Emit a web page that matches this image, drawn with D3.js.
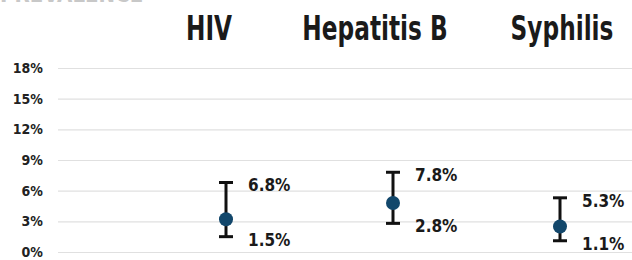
<!DOCTYPE html>
<html>
<head>
<meta charset="utf-8">
<script src="https://cdn.jsdelivr.net/npm/d3@7"></script>
<style>
  body { margin: 0; background: #fff; }
  text { font-family: "DejaVu Sans Condensed", "Liberation Sans Narrow", sans-serif; font-weight: bold; }
</style>
</head>
<body>
<div id="chart"></div>
<script>
// data
var categories = ["HIV", "Hepatitis B", "Syphilis"];
var estimates = [0.032, 0.048, 0.025];
var lowerBounds = [0.015, 0.028, 0.011];
var upperBounds = [0.068, 0.078, 0.053];
var yTicks = [0, 0.03, 0.06, 0.09, 0.12, 0.15, 0.18];

var svgWidth = 632;
var svgHeight = 260;

var svg = d3.select("#chart")
  .append("svg")
  .attr("width", svgWidth)
  .attr("height", svgHeight);

var yScale = d3.scaleLinear()
  .domain([0, 0.18])
  .range([252, 68]);

var xScale = d3.scalePoint()
  .domain(categories)
  .range([226, 560]);

// headers sit a little off the points in the original
var headerX = d3.scaleOrdinal()
  .domain(categories)
  .range([209, 375, 562]);

var pct = d3.format(".0%");
var pct1 = d3.format(".1%");

// cut-off title at the very top
svg.append("text")
  .attr("x", 0)
  .attr("y", 2)
  .attr("fill", "#c8c8c8")
  .attr("font-size", 22)
  .text("PREVALENCE");

// gridlines + tick labels via axis
var leftAxis = d3.axisLeft(yScale)
  .tickValues(yTicks)
  .tickFormat(pct)
  .tickSize(-(svgWidth - 58))
  .tickPadding(15);

var axisG = svg.append("g")
  .attr("transform", "translate(58,0)")
  .call(leftAxis);

axisG.select(".domain").remove();
axisG.selectAll(".tick line")
  .attr("stroke", "#e0e0e0")
  .attr("stroke-width", 1.2);
axisG.selectAll(".tick text")
  .attr("fill", "#222")
  .attr("font-size", 14)
  .attr("font-family", "DejaVu Sans Condensed, sans-serif")
  .attr("font-weight", "bold");

// headers (squeezed to look like the narrow original face)
svg.selectAll(".header")
  .data(categories)
  .enter()
  .append("text")
  .attr("class", "header")
  .attr("transform", function(d) { return "translate(" + headerX(d) + ",40) scale(0.76,1)"; })
  .attr("text-anchor", "middle")
  .attr("font-size", 34)
  .attr("fill", "#1a1a1a")
  .text(function(d) { return d; });

var rows = categories.map(function(c, i) {
  return { cat: c, est: estimates[i], lo: lowerBounds[i], hi: upperBounds[i] };
});

var g = svg.selectAll(".pt")
  .data(rows)
  .enter()
  .append("g")
  .attr("class", "pt");

// error bars
g.append("line")
  .attr("x1", function(d) { return xScale(d.cat); })
  .attr("x2", function(d) { return xScale(d.cat); })
  .attr("y1", function(d) { return yScale(d.hi); })
  .attr("y2", function(d) { return yScale(d.lo); })
  .attr("stroke", "#111")
  .attr("stroke-width", 3);

g.append("line")
  .attr("x1", function(d) { return xScale(d.cat) - 7; })
  .attr("x2", function(d) { return xScale(d.cat) + 7; })
  .attr("y1", function(d) { return yScale(d.hi); })
  .attr("y2", function(d) { return yScale(d.hi); })
  .attr("stroke", "#111")
  .attr("stroke-width", 3);

g.append("line")
  .attr("x1", function(d) { return xScale(d.cat) - 7; })
  .attr("x2", function(d) { return xScale(d.cat) + 7; })
  .attr("y1", function(d) { return yScale(d.lo); })
  .attr("y2", function(d) { return yScale(d.lo); })
  .attr("stroke", "#111")
  .attr("stroke-width", 3);

g.append("circle")
  .attr("cx", function(d) { return xScale(d.cat); })
  .attr("cy", function(d) { return yScale(d.est); })
  .attr("r", 7)
  .attr("fill", "#12476b");

// bound labels
g.append("text")
  .attr("x", function(d) { return xScale(d.cat) + 22; })
  .attr("y", function(d) { return yScale(d.hi) + 3; })
  .attr("dominant-baseline", "central")
  .attr("font-size", 17)
  .attr("fill", "#1a1a1a")
  .text(function(d) { return pct1(d.hi); });

g.append("text")
  .attr("x", function(d) { return xScale(d.cat) + 22; })
  .attr("y", function(d) { return yScale(d.lo) + 3; })
  .attr("dominant-baseline", "central")
  .attr("font-size", 17)
  .attr("fill", "#1a1a1a")
  .text(function(d) { return pct1(d.lo); });
</script>
</body>
</html>
